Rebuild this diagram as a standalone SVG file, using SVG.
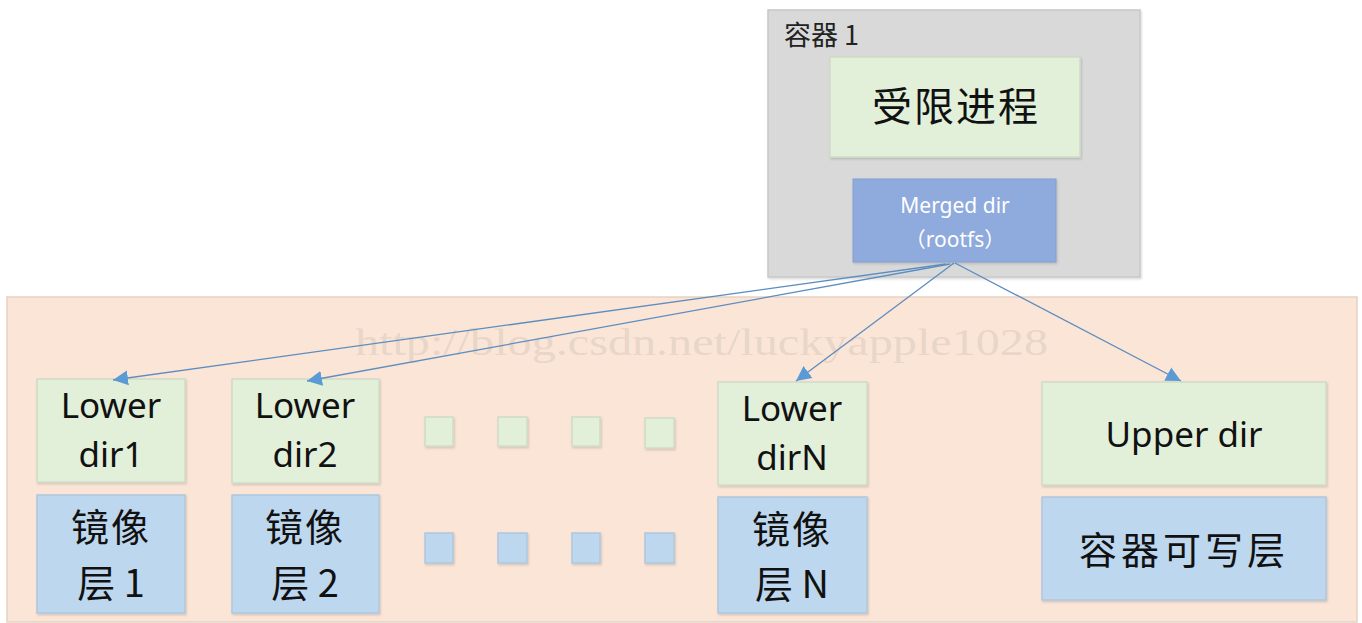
<svg xmlns="http://www.w3.org/2000/svg" width="1362" height="623" viewBox="0 0 1362 623">
<style>
.lat{font-family:"Noto Sans","Noto Sans CJK SC",sans-serif;fill:#111;text-anchor:middle}
.cjk{font-family:"Noto Sans CJK SC",sans-serif;fill:#111;text-anchor:middle}
.green{fill:#E2EFD9;stroke:#CFDCC6;stroke-width:1.5}
.blue{fill:#BDD7EE;stroke:#AFC8DE;stroke-width:1.5}
.conn{stroke:#5B8DC0;stroke-width:1.3;fill:none;marker-end:url(#ah)}
</style>
<defs>
<marker id="ah" markerWidth="18" markerHeight="16" refX="15" refY="8" orient="auto" markerUnits="userSpaceOnUse">
<path d="M0,0.5 L15,8 L0,15.5 Z" fill="#5B9BD5"/>
</marker>
<filter id="sh" x="-10%" y="-10%" width="125%" height="125%">
<feDropShadow dx="1" dy="1.5" stdDeviation="1.2" flood-color="#000" flood-opacity="0.15"/>
</filter>
</defs>
<rect width="1362" height="623" fill="#FFFFFF"/>

<g id="container1">
<rect x="768" y="10" width="372" height="267" fill="#D9D9D9" stroke="#C8C8C8" stroke-width="1.5" filter="url(#sh)"/>
<text x="784" y="45" font-family="Noto Sans CJK SC, sans-serif" font-size="27" fill="#222">容器 1</text>
</g>

<g id="restricted">
<rect x="830" y="57" width="250" height="100" class="green" filter="url(#sh)"/>
<text x="956" y="121" class="cjk" font-size="40" letter-spacing="2">受限进程</text>
</g>

<g id="merged">
<rect x="853" y="179" width="203" height="83" fill="#8FAADC" stroke="#839ECF" stroke-width="1" filter="url(#sh)"/>
<text x="955" y="213" class="lat" font-size="21" style="fill:#FFFFFF">Merged dir</text>
<text x="955" y="247" class="lat" font-size="21" style="fill:#FFFFFF">（rootfs）</text>
</g>

<g id="layers">
<rect x="7" y="297" width="1350" height="325" fill="#FBE5D6" stroke="#E6D2C4" stroke-width="1.5"/>
</g>

<text x="355" y="355" font-family="Liberation Serif, serif" font-size="38.5" fill="#C9BDB4" fill-opacity="0.4" textLength="693" lengthAdjust="spacingAndGlyphs">http://blog.csdn.net/luckyapple1028</text>

<g id="lowerdir1">
<rect x="37" y="379" width="148" height="103" class="green" filter="url(#sh)"/>
<text x="111" y="418" class="lat" font-size="35">Lower</text>
<text x="111" y="467" class="lat" font-size="35">dir1</text>
</g>
<g id="image1">
<rect x="37" y="495" width="148" height="118" class="blue" filter="url(#sh)"/>
<text x="111" y="541" class="cjk" font-size="38" letter-spacing="2">镜像</text>
<text x="111" y="597" class="cjk" font-size="38">层 1</text>
</g>

<g id="lowerdir2">
<rect x="232" y="379" width="147" height="104" class="green" filter="url(#sh)"/>
<text x="305" y="418" class="lat" font-size="35">Lower</text>
<text x="305" y="467" class="lat" font-size="35">dir2</text>
</g>
<g id="image2">
<rect x="232" y="495" width="147" height="118" class="blue" filter="url(#sh)"/>
<text x="305" y="541" class="cjk" font-size="38" letter-spacing="2">镜像</text>
<text x="305" y="597" class="cjk" font-size="38">层 2</text>
</g>

<g id="dots">
<rect x="425" y="417" width="28" height="29" class="green" filter="url(#sh)"/>
<rect x="498" y="417" width="29" height="29" class="green" filter="url(#sh)"/>
<rect x="572" y="417" width="28" height="29" class="green" filter="url(#sh)"/>
<rect x="645" y="418" width="29" height="30" class="green" filter="url(#sh)"/>
<rect x="425" y="533" width="28" height="30" class="blue" filter="url(#sh)"/>
<rect x="498" y="533" width="29" height="30" class="blue" filter="url(#sh)"/>
<rect x="572" y="533" width="28" height="30" class="blue" filter="url(#sh)"/>
<rect x="645" y="533" width="29" height="30" class="blue" filter="url(#sh)"/>
</g>

<g id="lowerdirN">
<rect x="718" y="382" width="149" height="103" class="green" filter="url(#sh)"/>
<text x="792" y="421" class="lat" font-size="35">Lower</text>
<text x="792" y="470" class="lat" font-size="35">dirN</text>
</g>
<g id="imageN">
<rect x="718" y="497" width="149" height="116" class="blue" filter="url(#sh)"/>
<text x="792" y="543" class="cjk" font-size="38" letter-spacing="2">镜像</text>
<text x="792" y="598" class="cjk" font-size="38">层 N</text>
</g>

<g id="upperdir">
<rect x="1042" y="382" width="284" height="103" class="green" filter="url(#sh)"/>
<text x="1184" y="447" class="lat" font-size="35">Upper dir</text>
</g>
<g id="writable">
<rect x="1042" y="497" width="284" height="103" class="blue" filter="url(#sh)"/>
<text x="1184" y="564" class="cjk" font-size="38" letter-spacing="4">容器可写层</text>
</g>

<g id="connectors">
<line x1="946" y1="264" x2="113" y2="380" class="conn"/>
<line x1="950" y1="264" x2="307" y2="381" class="conn"/>
<line x1="954" y1="263" x2="796" y2="381" class="conn"/>
<line x1="955" y1="263" x2="1181" y2="381" class="conn"/>
</g>
</svg>
